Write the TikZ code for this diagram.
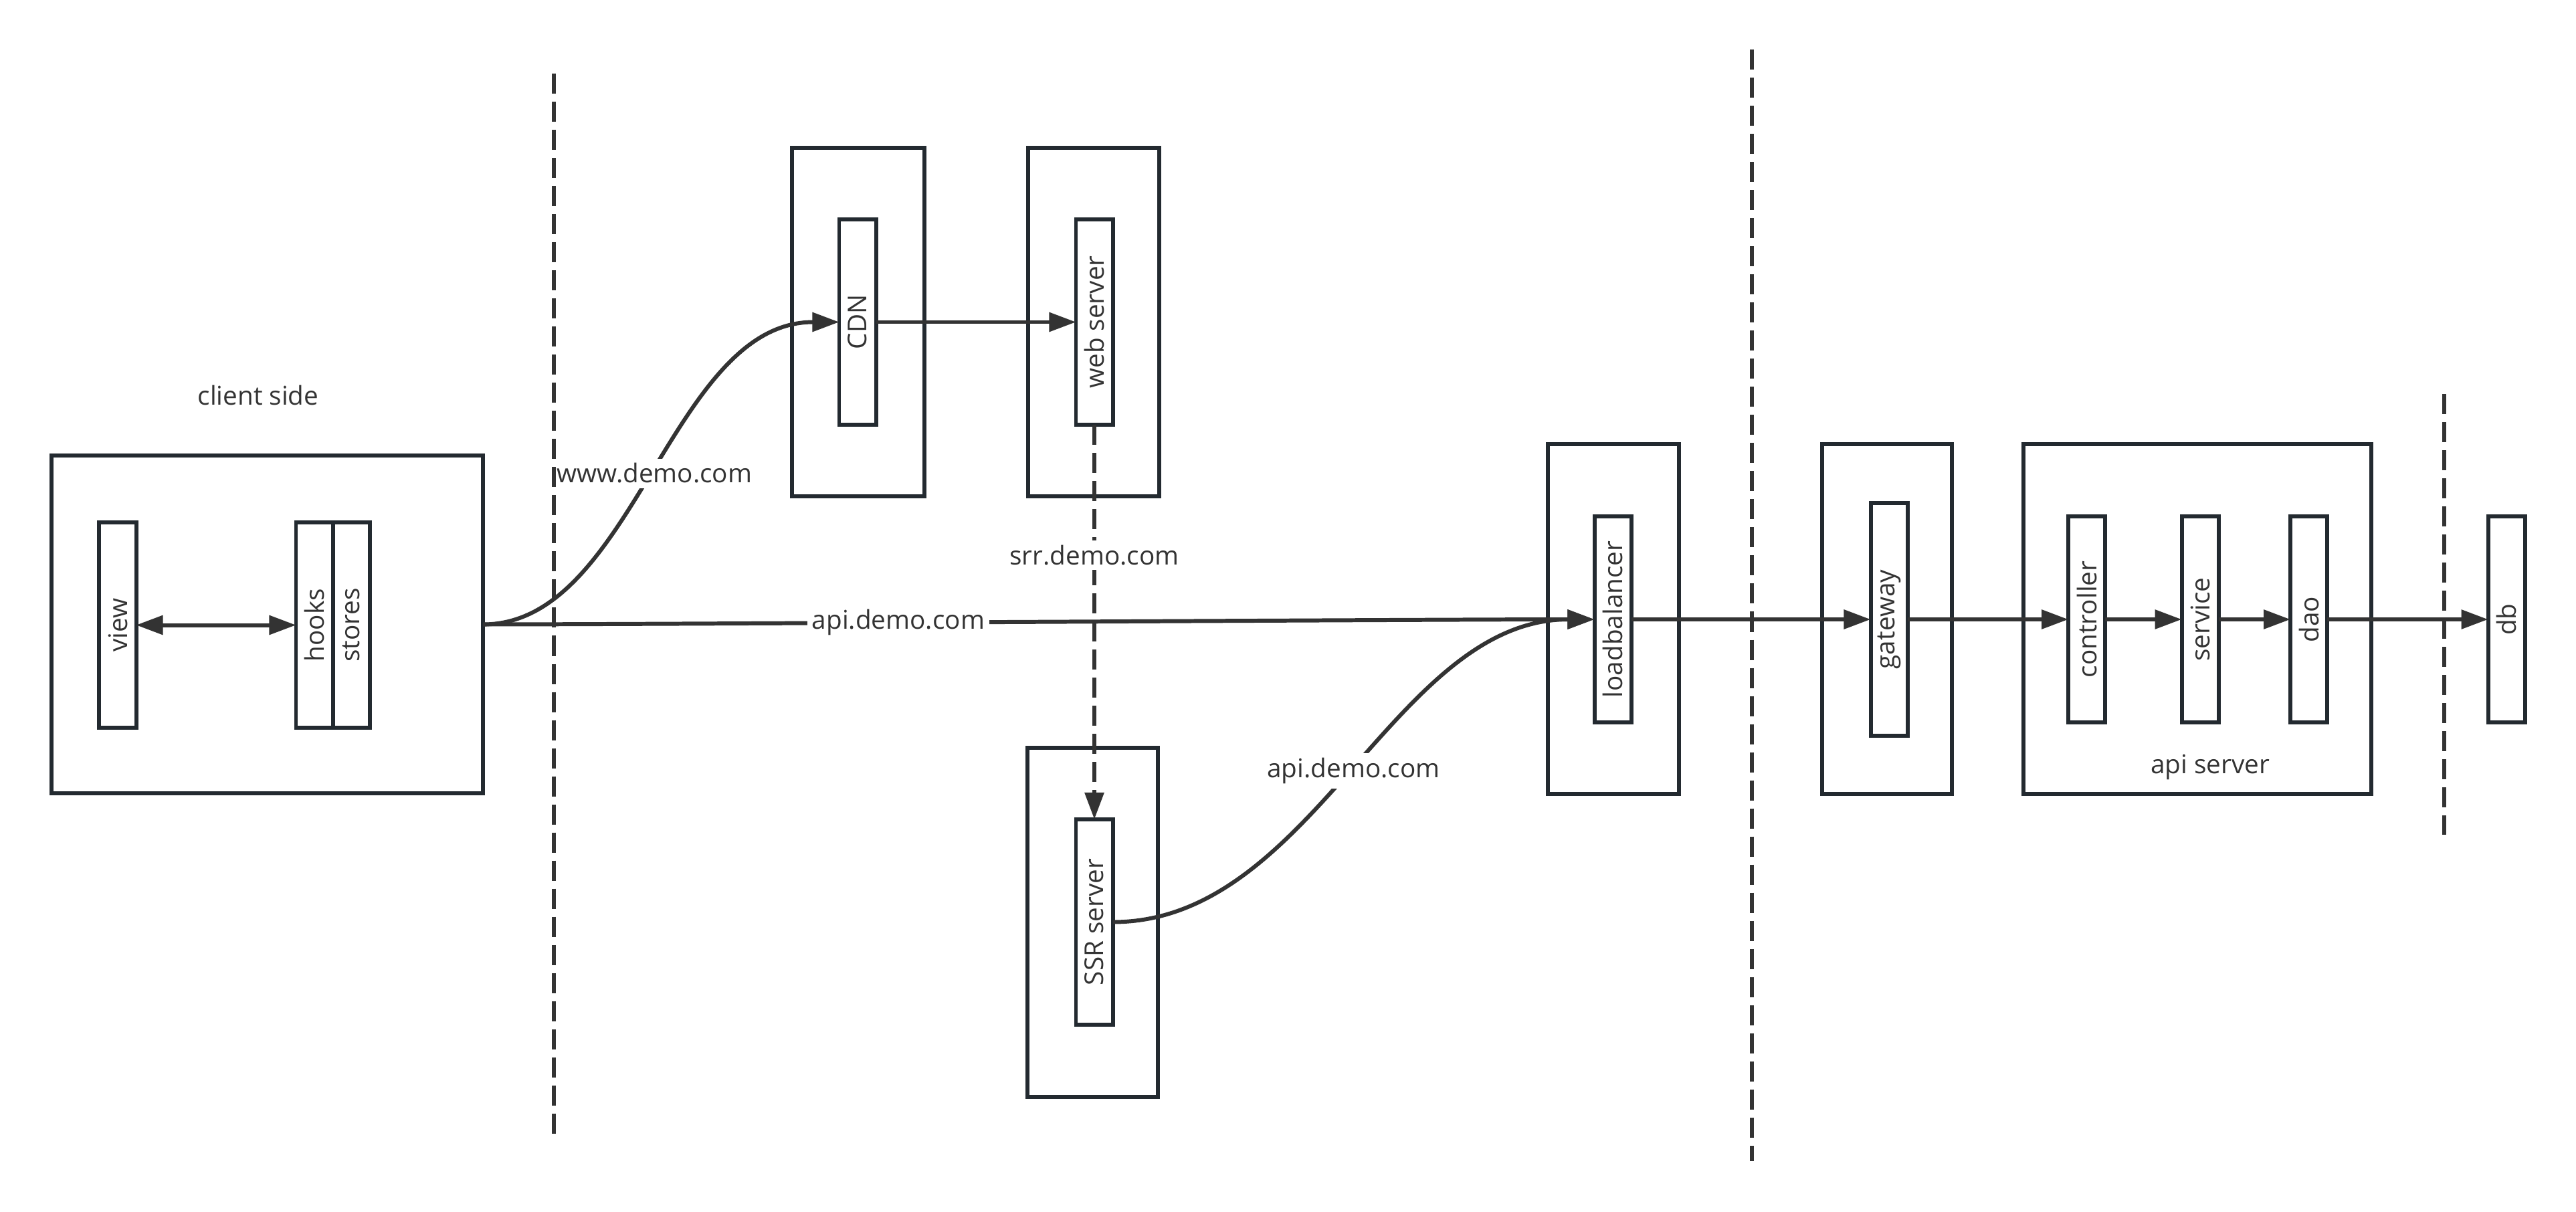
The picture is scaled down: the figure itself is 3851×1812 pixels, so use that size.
\documentclass[tikz,border=0pt]{standalone}
\usepackage{fontspec}
\setmainfont{Open Sans}
\usepackage{graphicx}
\usetikzlibrary{arrows.meta,positioning}
\definecolor{boxc}{HTML}{232A30}
\definecolor{linec}{HTML}{333333}

\begin{document}
\begin{tikzpicture}[x=0.01cm,y=-0.01cm,
	font=\fontsize{11}{13}\selectfont,text=linec,
	>={Triangle[length=0.4cm,width=0.28cm]},
	box/.style={draw=boxc,line width=1.7pt,inner sep=0pt,outer sep=0pt},
	layer/.style={box,minimum width=0.55cm,minimum height=3.07cm},
	link/.style={draw=linec,line width=1.7pt,->},
	tag/.style={fill=white,inner sep=2pt},
	divider/.style={draw=linec,line width=1.7pt,dash pattern=on 0.3cm off 0.12cm}]
	\useasboundingbox (0,0) rectangle (3851,1812);
	\node[box,minimum width=6.45cm,minimum height=5.05cm](client) at (399.5,933.5){};
	\node(side) at (386,591){client side};
	\node[layer](view) at (176,934.5){\rotatebox{90}{view}};
	\node[layer](hooks) at (470,934.5){\rotatebox{90}{hooks}};
	\node[layer](stores)[right=0pt of hooks]{\rotatebox{90}{stores}};
	\node[box,minimum width=1.97cm,minimum height=5.21cm](cdnbox) at (1283,481.5){};
	\node[layer](cdn) at (1282,481.5){\rotatebox{90}{CDN}};
	\node[box,minimum width=1.96cm,minimum height=5.21cm](webbox) at (1635,481.5){};
	\node[layer](web) at (1636,481.5){\rotatebox{90}{web server}};
	\node[box,minimum width=1.95cm,minimum height=5.22cm](ssrbox) at (1633.5,1379){};
	\node[layer](ssr) at (1636,1378.5){\rotatebox{90}{SSR server}};
	\node[box,minimum width=1.96cm,minimum height=5.23cm](lbbox) at (2412,925.5){};
	\node[layer](lb) at (2411,926){\rotatebox{90}{loadbalancer}};
	\node[box,minimum width=1.94cm,minimum height=5.23cm](gwbox) at (2821,925.5){};
	\node[layer,minimum height=3.47cm](gw) at (2824,926){\rotatebox{90}{gateway}};
	\node[box,minimum width=5.2cm,minimum height=5.23cm](apibox) at (3285,925.5){};
	\node(apiname) at (3304,1147){api server};
	\node[layer](ctrl) at (3119.5,926){\rotatebox{90}{controller}};
	\node[layer](svc) at (3289,926){\rotatebox{90}{service}};
	\node[layer](dao) at (3451.5,926){\rotatebox{90}{dao}};
	\node[layer](db) at (3747,926){\rotatebox{90}{db}};
	\draw[link,<->](view) -- (hooks);
	\draw[link](cdn) -- (web);
	\draw[link,dash pattern=on 0.3cm off 0.12cm](web.south) -- node[pos=0.33,tag]{srr.demo.com} (ssr.north);
	\draw[link](client.east) .. controls +(225,0) and +(-252,0) .. node[tag]{www.demo.com} (cdn.west);
	\draw[link](client.east) .. controls +(250,0) and +(-250,0) .. node[pos=0.4,tag]{api.demo.com} (lb.west);
	\draw[link](ssr.east) .. controls +(300,0) and +(-300,0) .. node[tag]{api.demo.com} (lb.west);
	\draw[link](lb) -- (gw);
	\draw[link](gw) -- (ctrl);
	\draw[link](ctrl) -- (svc);
	\draw[link](svc) -- (dao);
	\draw[link](dao) -- (db);
	\draw[divider](828,110) -- (828,1700);
	\draw[divider](2619,74) -- (2619,1736);
	\draw[divider](3654,589) -- (3654,1248);
\end{tikzpicture}
\end{document}
